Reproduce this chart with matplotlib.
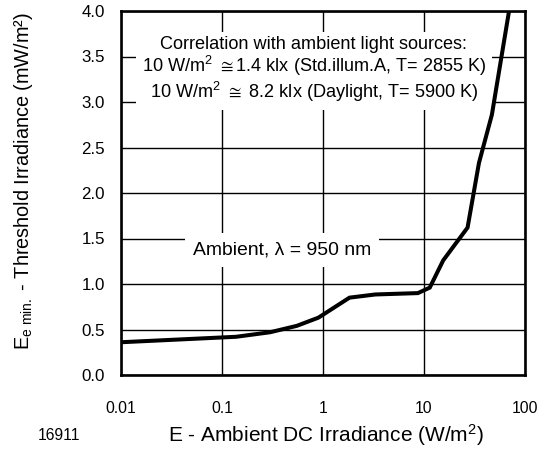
import matplotlib
matplotlib.use("Agg")
import matplotlib.pyplot as plt

plt.rcParams['font.family'] = ['Liberation Sans', 'DejaVu Sans']
plt.rcParams['mathtext.fontset'] = 'custom'
plt.rcParams['mathtext.rm'] = 'Liberation Sans'
plt.rcParams['mathtext.it'] = 'Liberation Sans:italic'
plt.rcParams['mathtext.default'] = 'regular'
plt.rcParams['mathtext.fallback'] = 'stixsans'

# Data
irradiance = [0.01, 0.138, 0.3, 0.55, 0.9, 1.83, 3.3, 8.7, 11.4, 15.5, 27, 35, 47, 70]
threshold = [0.36, 0.42, 0.47, 0.54, 0.63, 0.85, 0.885, 0.90, 0.96, 1.26, 1.62, 2.33, 2.86, 4.02]

x_ticks = [0.01, 0.1, 1, 10, 100]
x_tick_labels = ["0.01", "0.1", "1", "10", "100"]
y_ticks = [0.0, 0.5, 1.0, 1.5, 2.0, 2.5, 3.0, 3.5, 4.0]
y_tick_labels = ["0.0", "0.5", "1.0", "1.5", "2.0", "2.5", "3.0", "3.5", "4.0"]

W, H = 545, 449
fig = plt.figure(figsize=(W / 100, H / 100), dpi=100)
ax = fig.add_axes([121 / W, 1 - 375 / H, (525 - 121) / W, (375 - 11) / H])

ax.set_xscale('log')
ax.set_xlim(0.01, 100)
ax.set_ylim(0, 4.0)
ax.set_xticks(x_ticks)
ax.set_xticklabels(x_tick_labels)
ax.minorticks_off()
ax.set_yticks(y_ticks)
ax.set_yticklabels(y_tick_labels)
ax.grid(True, which='major', color='black', linewidth=1.0, zorder=1)
ax.set_axisbelow(True)

ax.plot(irradiance, threshold, color='black', linewidth=2.9, zorder=3,
        solid_joinstyle='miter', clip_on=True)

ax.tick_params(axis='both', length=0, colors='black')
ax.tick_params(axis='x', labelsize=11.3, pad=19)
ax.tick_params(axis='y', labelsize=12.2, pad=11.5)

for sp in ax.spines.values():
    sp.set_linewidth(1.9)
    sp.set_zorder(4)

xlab = fig.text(326 / W, 1 - 435 / H, "E - Ambient DC Irradiance (W/m$^2$)",
                fontsize=14, ha='center', va='center')

ylab = fig.text(24 / W, 1 - 181 / H,
                "E$_{\\mathregular{e\\ min.}}$ - Threshold Irradiance (mW/m²)",
                fontsize=14.5, rotation=90, ha='center', va='center')

code = fig.text(59 / W, 1 - 435 / H, "16911", fontsize=10.5, ha='center', va='center')

box1 = ax.text((314 - 121) / (525 - 121), (375 - 70) / (375 - 11),
               "Correlation with ambient light sources:\n"
               "10 W/m$^2$ $\\cong$1.4 klx (Std.illum.A, T= 2855 K)\n"
               "10 W/m$^2$ $\\cong$ 8.2 klx (Daylight, T= 5900 K)",
               transform=ax.transAxes, ha='center', va='center', multialignment='center',
               fontsize=13, linespacing=1.1,
               bbox=dict(boxstyle='square,pad=0.3', facecolor='white', edgecolor='none'),
               zorder=2)

box2 = ax.text((282 - 121) / (525 - 121), (375 - 250) / (375 - 11), "Ambient, λ = 950 nm",
               transform=ax.transAxes, ha='center', va='center', fontsize=13.5,
               bbox=dict(boxstyle='square,pad=0.43', facecolor='white', edgecolor='none'),
               zorder=2)

# fit text sizes to the widths measured on the reference (in pixels)
renderer = fig.canvas.get_renderer()
targets = [(xlab, 315, 'w'), (ylab, 338, 'h'), (code, 42, 'w'),
           (box1, 346, 'w'), (box2, 179, 'w')]
for _ in range(2):
    for t, target, dim in targets:
        bb = t.get_window_extent(renderer)
        size = bb.width if dim == 'w' else bb.height
        t.set_fontsize(t.get_fontsize() * target / size)

fig.savefig("out.png", dpi=100)
